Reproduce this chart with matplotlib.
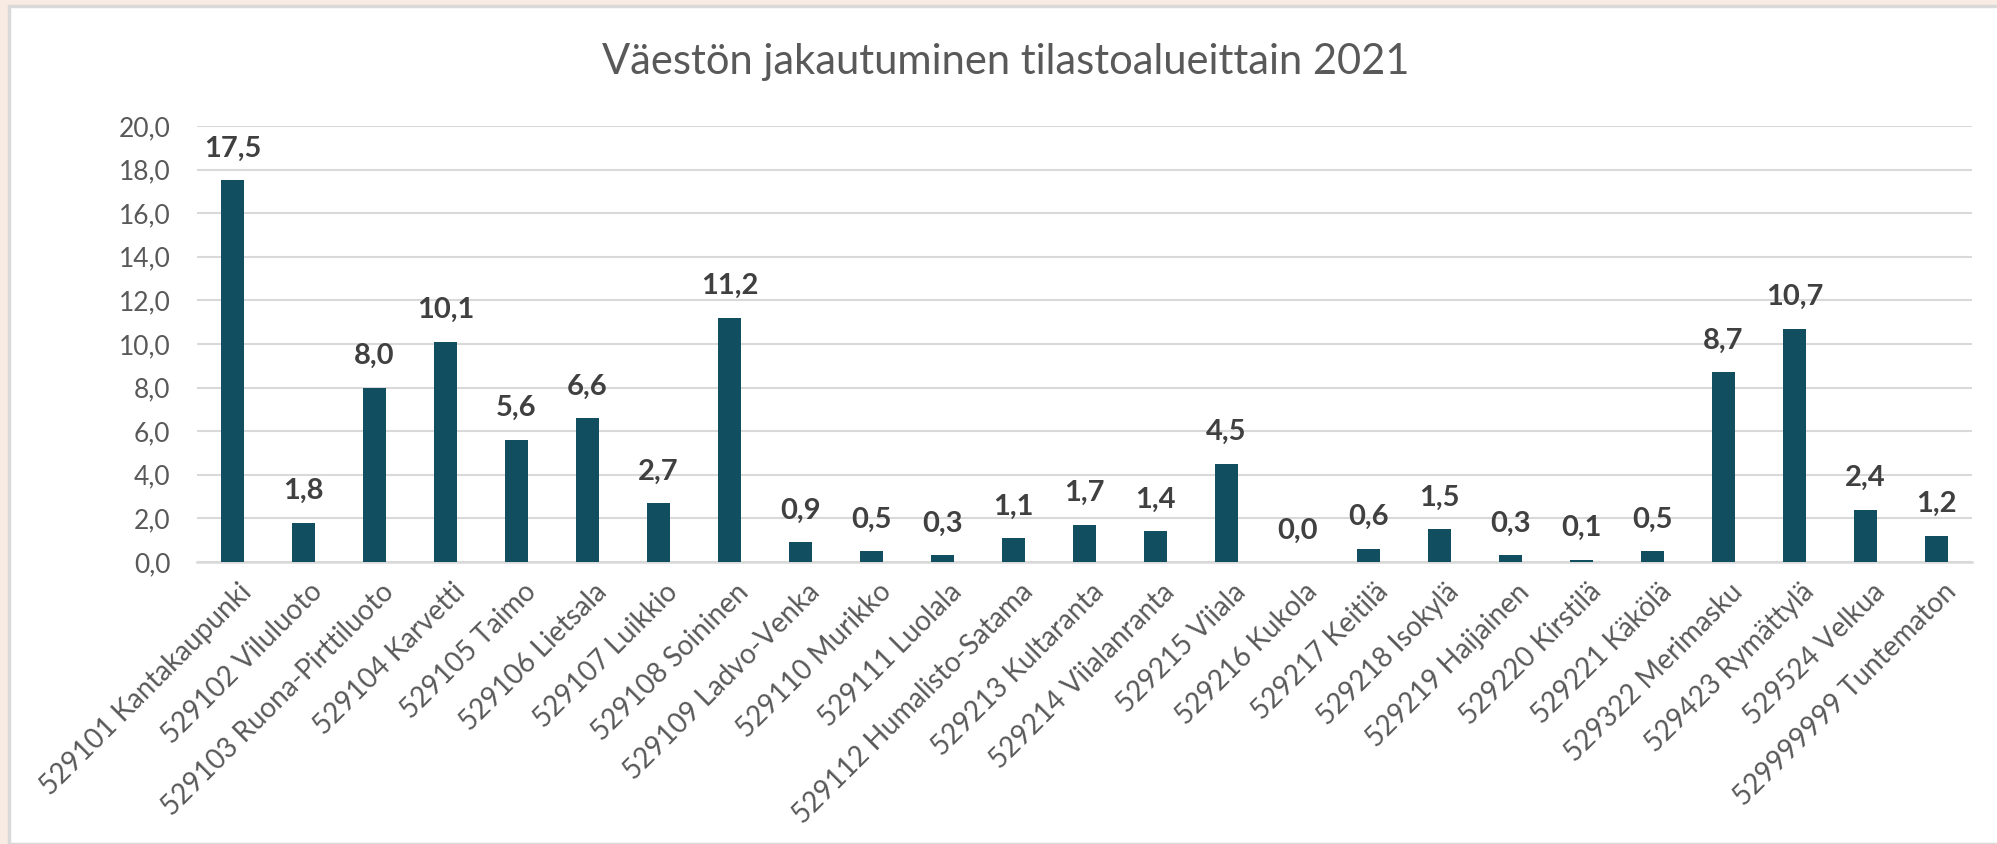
import numpy as np
import matplotlib.pyplot as plt
from matplotlib.patches import Rectangle
from matplotlib.ticker import FuncFormatter
from matplotlib.transforms import ScaledTranslation

# data
alueet = ["529101 Kantakaupunki", "529102 Viluluoto", "529103 Ruona-Pirttiluoto",
          "529104 Karvetti", "529105 Taimo", "529106 Lietsala", "529107 Luikkio",
          "529108 Soininen", "529109 Ladvo-Venka", "529110 Murikko", "529111 Luolala",
          "529112 Humalisto-Satama", "529213 Kultaranta", "529214 Viialanranta",
          "529215 Viiala", "529216 Kukola", "529217 Keitilä", "529218 Isokylä",
          "529219 Haijainen", "529220 Kirstilä", "529221 Käkölä", "529322 Merimasku",
          "529423 Rymättylä", "529524 Velkua", "529999999 Tuntematon"]
osuus = [17.5, 1.8, 8.0, 10.1, 5.6, 6.6, 2.7, 11.2, 0.9, 0.5, 0.3, 1.1, 1.7, 1.4,
         4.5, 0.0, 0.6, 1.5, 0.3, 0.1, 0.5, 8.7, 10.7, 2.4, 1.2]
yticks = [0, 2, 4, 6, 8, 10, 12, 14, 16, 18, 20]

plt.rcParams['font.family'] = ['Lato', 'DejaVu Sans']

W, H = 1997, 844
fig = plt.figure(figsize=(W/100, H/100), dpi=100, facecolor='#f8ebe3')
# white chart area with grey frame
fig.patches.append(Rectangle((9/W, 0), 1, 1 - 6/H, transform=fig.transFigure,
                             facecolor='white', edgecolor='#d9d9d9', lw=2.5, zorder=-5))

ax = fig.add_axes([197/W, (H-562)/H, (1972-197)/W, (562-126)/H])
ax.set_facecolor('none')
ax.set_zorder(5)

x = np.arange(len(alueet))
bars = ax.bar(x, osuus, width=0.32, color='#114e60', zorder=3)

for xi, v in zip(x, osuus):
    ax.annotate(f"{v:.1f}".replace('.', ','), (xi, v), xytext=(0, 17),
                textcoords='offset points', ha='center', va='baseline',
                fontsize=21, fontweight='bold', color='#404040')

ax.set_xlim(-0.5, len(alueet) - 0.5)
ax.set_ylim(0, 20)
ax.set_yticks(yticks)
ax.yaxis.set_major_formatter(FuncFormatter(lambda v, p: f"{v:.1f}".replace('.', ',')))
ax.grid(axis='y', color='#d9d9d9', lw=1.5, zorder=0)
for s in ['top', 'right', 'left']:
    ax.spines[s].set_visible(False)
ax.spines['bottom'].set_color('#d9d9d9')
ax.spines['bottom'].set_linewidth(1.8)

ax.set_xticks(x)
ax.set_xticklabels(alueet, rotation=45, ha='right', rotation_mode='anchor',
                   va='top', fontsize=20, color='#595959')
ax.tick_params(axis='x', length=0, pad=12)
ax.tick_params(axis='y', length=0, pad=19, labelsize=19, labelcolor='#595959')
siirto = ScaledTranslation(0.06, 0, fig.dpi_scale_trans)
for lab in ax.get_xticklabels():
    lab.set_transform(lab.get_transform() + siirto)

fig.text(1006/W, 1 - 62/H, "Väestön jakautuminen tilastoalueittain 2021",
         ha='center', va='center', fontsize=30, color='#595959')

fig.savefig('out.png', dpi=100, facecolor=fig.get_facecolor())
